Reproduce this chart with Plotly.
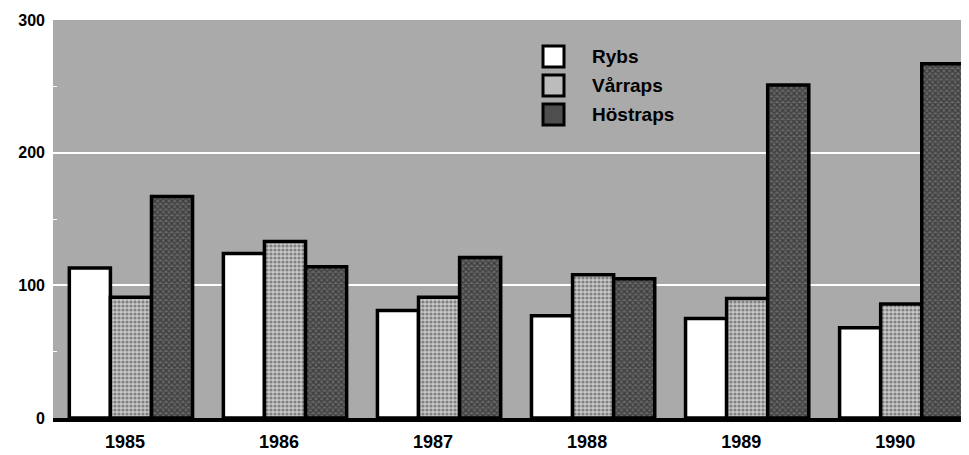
import plotly.graph_objects as go

years = ["1985", "1986", "1987", "1988", "1989", "1990"]
rybs = [113, 124, 81, 77, 75, 68]
varraps = [91, 133, 91, 108, 90, 86]
hostraps = [167, 114, 121, 105, 251, 267]
series_names = ["Rybs", "Vårraps", "Höstraps"]
ytick_vals = [0, 100, 200, 300]

# The page body has an 8px margin, so the figure is sized to fit the window.
OFF = 8
W, H = 969 - OFF, 455 - OFF
PLOT_L, PLOT_R, PLOT_T, PLOT_B = 53, 969, 20, 418   # desired plot area in window pixels
L = PLOT_L - OFF
R = 969 - PLOT_R
T = PLOT_T - OFF
B = 455 - PLOT_B
FONT = "Liberation Sans, Arial, sans-serif"

fills = ["white", "#c4c4c4", "#555555"]
patterns = [
    None,
    dict(shape=".", fgcolor="#3a3a3a", bgcolor="#c8c8c8", size=4, solidity=0.5),
    dict(shape="x", fgcolor="#111111", bgcolor="#666666", size=4, solidity=0.55),
]
legend_fills = ["white", "#bcbcbc", "#4e4e4e"]

fig = go.Figure()
for name, vals, col, pat in zip(series_names, [rybs, varraps, hostraps], fills, patterns):
    marker = dict(color=col, line=dict(color="black", width=3.5))
    if pat:
        marker["pattern"] = pat
    fig.add_trace(go.Bar(name=name, x=years, y=vals, marker=marker, showlegend=False))


def px_x(px):
    return (px - PLOT_L) / (PLOT_R - PLOT_L)


def px_y(py):
    return (PLOT_B - py) / (PLOT_B - PLOT_T)


# custom legend (large squares like the reference)
shapes = []
annotations = []
for i, (name, lf) in enumerate(zip(series_names, legend_fills)):
    top = 46 + i * 29
    shapes.append(dict(
        type="rect", xref="paper", yref="paper",
        x0=px_x(543), x1=px_x(564), y0=px_y(top + 21), y1=px_y(top),
        fillcolor=lf, line=dict(color="black", width=3),
    ))
    annotations.append(dict(
        xref="paper", yref="paper", x=px_x(590), y=px_y(top + 10.5),
        xanchor="left", yanchor="middle", text=f"<b>{name}</b>", showarrow=False,
        font=dict(size=19, family=FONT, color="black"),
    ))

fig.update_layout(
    width=W, height=H,
    margin=dict(l=L, r=R, t=T, b=B),
    paper_bgcolor="white",
    plot_bgcolor="#aaaaaa",
    barmode="group",
    bargap=0.2,
    bargroupgap=0,
    font=dict(family=FONT, color="black"),
    showlegend=False,
    shapes=shapes,
    annotations=annotations,
    xaxis=dict(
        range=[-0.506, 5.44],
        automargin=False,
        showgrid=False,
        showline=True, linecolor="black", linewidth=3.5,
        ticks="",
        tickfont=dict(size=18, family=FONT, color="black", weight="bold"),
        ticklabelstandoff=5,
        ticklabelshift=-6,
    ),
    yaxis=dict(
        range=[0, 300],
        automargin=False,
        tickvals=ytick_vals,
        showgrid=True, gridcolor="white", gridwidth=2,
        zeroline=False,
        showline=False,
        ticks="",
        tickfont=dict(size=16, family=FONT, color="black", weight="bold"),
        ticklabelstandoff=7,
        minor=dict(tickvals=[50, 150, 250], ticks="inside", ticklen=4, tickcolor="white", showgrid=False),
    ),
)

fig.write_html("out.html")
